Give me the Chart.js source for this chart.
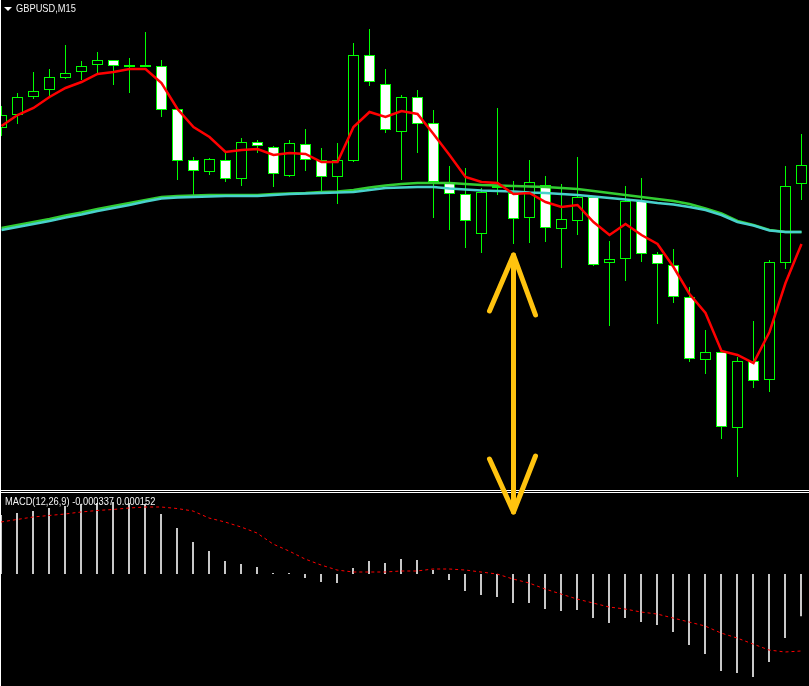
<!DOCTYPE html>
<html>
<head>
<meta charset="utf-8">
<script src="https://cdn.jsdelivr.net/npm/chart.js@4.4.0/dist/chart.umd.min.js"></script>
<style>
  html, body { margin: 0; padding: 0; background: #000; }
  #wrap { position: relative; width: 809px; height: 686px; background: #000; overflow: hidden; }
  canvas { position: absolute; left: 0; display: block; }
  .sep { position: absolute; left: 0; width: 809px; height: 1px; background: #ffffff; }
  .lbl { position: absolute; font-family: "Liberation Sans", Arial, sans-serif;
         font-size: 11px; line-height: 11px; color: #f4f4f4; white-space: nowrap;
         transform: scaleX(0.845); transform-origin: 0 0; }
  #tri { position: absolute; left: 4px; top: 7px; width: 0; height: 0;
         border-left: 4px solid transparent; border-right: 4px solid transparent; border-top: 4px solid #ffffff; }
  #lb { position: absolute; left: 0; top: 0; width: 1px; height: 686px; background: #ffffff; }
</style>
</head>
<body>
<div id="wrap">
  <canvas id="price" width="809" height="490" style="top:0"></canvas>
  <div class="sep" style="top:490px"></div>
  <div class="sep" style="top:492px"></div>
  <canvas id="macd" width="809" height="193" style="top:493px"></canvas>
  <div id="tri"></div>
  <div class="lbl" style="left:16px;top:3px">GBPUSD,M15</div>
  <div class="lbl" style="left:5px;top:496px">MACD(12,26,9) -0.000337 0.000152</div>
  <canvas id="overlay" width="809" height="686" style="top:0"></canvas>
  <div id="lb"></div>
</div>
<script>
// ---- Candles (GBPUSD, M15) ----
const opens  = [1.28362,1.28375,1.28393,1.28400,1.28412,1.28418,1.28425,1.28430,1.28425,1.28425,
                1.28424,1.28381,1.28330,1.28318,1.28330,1.28311,1.28348,1.28343,1.28314,1.28346,
                1.28330,1.28313,1.28329,1.28435,1.28406,1.28358,1.28393,1.28367,1.28308,1.28296,
                1.28256,1.28302,1.28297,1.28272,1.28305,1.28261,1.28269,1.28293,1.28227,1.28231,
                1.28289,1.28236,1.28225,1.28193,1.28130,1.28138,1.28062,1.28129,1.28110,1.28227,
                1.28306];
const highs  = [1.28384,1.28397,1.28418,1.28421,1.28445,1.28429,1.28438,1.28430,1.28432,1.28458,
                1.28430,1.28381,1.28333,1.28332,1.28337,1.28352,1.28350,1.28344,1.28350,1.28361,
                1.28342,1.28347,1.28447,1.28461,1.28421,1.28395,1.28400,1.28380,1.28324,1.28322,
                1.28302,1.28382,1.28309,1.28330,1.28314,1.28306,1.28333,1.28294,1.28249,1.28304,
                1.28312,1.28238,1.28241,1.28203,1.28160,1.28138,1.28133,1.28169,1.28230,1.28324,
                1.28356];
const lows   = [1.28354,1.28366,1.28391,1.28394,1.28411,1.28410,1.28417,1.28405,1.28397,1.28423,
                1.28373,1.28310,1.28295,1.28315,1.28308,1.28304,1.28337,1.28303,1.28313,1.28319,
                1.28298,1.28286,1.28328,1.28404,1.28357,1.28310,1.28337,1.28272,1.28260,1.28242,
                1.28237,1.28295,1.28246,1.28247,1.28248,1.28222,1.28255,1.28224,1.28164,1.28209,
                1.28228,1.28166,1.28187,1.28128,1.28116,1.28051,1.28013,1.28102,1.28098,1.28221,
                1.28290];
const closes = [1.28375,1.28393,1.28399,1.28413,1.28417,1.28424,1.28430,1.28424,1.28423,1.28423,
                1.28380,1.28329,1.28319,1.28331,1.28311,1.28348,1.28344,1.28316,1.28347,1.28330,
                1.28313,1.28330,1.28435,1.28408,1.28360,1.28393,1.28366,1.28308,1.28296,1.28269,
                1.28298,1.28304,1.28271,1.28308,1.28262,1.28271,1.28293,1.28225,1.28231,1.28289,
                1.28236,1.28226,1.28193,1.28131,1.28138,1.28063,1.28129,1.28109,1.28228,1.28304,
                1.28325];

// ---- Moving averages ----
const maRed   = [1.28364,1.28375,1.28382,1.28393,1.28402,1.28408,1.28416,1.28418,1.28421,1.28421,
                 1.28407,1.28381,1.28363,1.28353,1.28338,1.28340,1.28341,1.28335,1.28337,1.28336,
                 1.28328,1.28328,1.28363,1.28378,1.28373,1.28379,1.28376,1.28356,1.28335,1.28313,
                 1.28308,1.28307,1.28296,1.28297,1.28288,1.28283,1.28285,1.28268,1.28255,1.28266,
                 1.28255,1.28246,1.28223,1.28196,1.28177,1.28139,1.28135,1.28127,1.28158,1.28207,
                 1.28246];
const maGreen = [1.28262,1.28265,1.28268,1.28271,1.282745,1.282775,1.28281,1.28284,1.28287,1.28290,
                 1.28293,1.28294,1.282945,1.28295,1.28295,1.28295,1.28295,1.28296,1.282965,1.28297,
                 1.28298,1.282985,1.28300,1.283025,1.283045,1.28306,1.28307,1.28307,1.28307,1.28306,
                 1.28305,1.283045,1.28304,1.283035,1.28303,1.28302,1.28301,1.28299,1.28297,1.28295,
                 1.28293,1.28291,1.28289,1.28286,1.282815,1.282765,1.28269,1.28265,1.28260,1.28258,
                 1.28258];
const maCyan  = [1.28260,1.28263,1.28266,1.28269,1.282725,1.282755,1.28279,1.28282,1.28285,1.282885,
                 1.282915,1.282925,1.28293,1.282935,1.28294,1.28294,1.28294,1.28295,1.28296,1.282965,
                 1.28297,1.282975,1.28298,1.28300,1.28302,1.283025,1.28303,1.28303,1.283015,1.283005,
                 1.282995,1.28299,1.282985,1.282975,1.28297,1.28296,1.28295,1.282935,1.28292,1.282905,
                 1.28289,1.28287,1.282855,1.28283,1.28280,1.28275,1.28268,1.282645,1.282595,1.28258,
                 1.28258];

// ---- MACD(12,26,9) ----
const macdMain   = [0.000472,0.000488,0.000504,0.000528,0.000544,0.000560,0.000568,0.000576,0.000568,0.000560,
                    0.000480,0.000368,0.000256,0.000184,0.000104,0.000080,0.000056,0.000008,0.000008,-0.000032,
                    -0.000064,-0.000072,0.000048,0.000104,0.000088,0.000120,0.000112,0.000032,-0.000048,-0.000136,
                    -0.000168,-0.000184,-0.000232,-0.000232,-0.000280,-0.000296,-0.000288,-0.000352,-0.000392,-0.000352,
                    -0.000384,-0.000408,-0.000464,-0.000568,-0.000640,-0.000776,-0.000792,-0.000824,-0.000704,-0.000512,
                    -0.000337];
const macdSignal = [0.000416,0.000436,0.000456,0.000468,0.000480,0.000496,0.000508,0.000516,0.000528,0.000536,
                    0.000536,0.000524,0.000504,0.000448,0.000416,0.000376,0.000328,0.000240,0.000184,0.000120,
                    0.000072,0.000032,0.000016,0.000016,0.000016,0.000024,0.000024,0.000040,0.000040,0.000032,
                    0.000016,0.000000,-0.000040,-0.000072,-0.000120,-0.000160,-0.000200,-0.000232,-0.000264,-0.000280,
                    -0.000304,-0.000320,-0.000352,-0.000384,-0.000416,-0.000472,-0.000512,-0.000560,-0.000608,-0.000624,
                    -0.000616];

// ---- Annotation: double arrow at bar 32 ----
const arrowBar = 32;
const arrowTopPrice = 1.28235;
const arrowBottomMacd = 0.000496;

const barIndex = opens.map((_, i) => i);

const priceChart = new Chart(document.getElementById('price'), {
  type: 'bar',
  data: {
    datasets: [
      { type: 'bar', data: barIndex.map(i => ({ x: i, y: [lows[i], highs[i]] })),
        backgroundColor: '#00FF00', borderWidth: 0, barThickness: 1, grouped: false, inflateAmount: 0, order: 5 },
      { type: 'bar', data: barIndex.map(i => ({ x: i, y: [opens[i], closes[i]] })),
        backgroundColor: barIndex.map(i => closes[i] > opens[i] ? '#000000' : '#FFFFFF'),
        borderColor: '#00FF00', borderWidth: 1, borderSkipped: false, barThickness: 11, grouped: false, inflateAmount: 0, order: 4 },
      { type: 'line', data: barIndex.map(i => ({ x: i, y: maGreen[i] })),
        borderColor: '#32CD32', borderWidth: 2.5, pointRadius: 0, tension: 0, order: 3 },
      { type: 'line', data: barIndex.map(i => ({ x: i, y: maCyan[i] })),
        borderColor: '#48D1CC', borderWidth: 2.5, pointRadius: 0, tension: 0, order: 2 },
      { type: 'line', data: barIndex.map(i => ({ x: i, y: maRed[i] })),
        borderColor: '#FF0000', borderWidth: 2.5, pointRadius: 0, tension: 0, order: 1 }
    ]
  },
  options: {
    responsive: false, animation: false, devicePixelRatio: 1,
    layout: { padding: 0 },
    plugins: { legend: { display: false }, tooltip: { enabled: false } },
    scales: {
      x: { type: 'linear', display: false, offset: false, min: -0.09375, max: 50.46875 },
      y: { type: 'linear', display: false, min: 1.28000, max: 1.28490 }
    }
  }
});

const macdChart = new Chart(document.getElementById('macd'), {
  type: 'bar',
  data: {
    datasets: [
      { type: 'bar', data: barIndex.map(i => ({ x: i, y: macdMain[i] })),
        backgroundColor: '#C8C8C8', borderWidth: 0, barThickness: 2, grouped: false, inflateAmount: 0, order: 2 },
      { type: 'line', data: barIndex.map(i => ({ x: i, y: macdSignal[i] })),
        borderColor: '#FF0000', borderWidth: 1, borderDash: [3, 3], pointRadius: 0, tension: 0, order: 1 }
    ]
  },
  options: {
    responsive: false, animation: false, devicePixelRatio: 1,
    layout: { padding: 0 },
    plugins: { legend: { display: false }, tooltip: { enabled: false } },
    scales: {
      x: { type: 'linear', display: false, offset: false, min: -0.0625, max: 50.5 },
      y: { type: 'linear', display: false, min: -0.000896, max: 0.000648 }
    }
  }
});

// Overlay arrow (positions derived from the charts' scales)
(function drawArrow() {
  const cv = document.getElementById('overlay');
  const ctx = cv.getContext('2d');
  const macdTop = 493;
  const x = priceChart.scales.x.getPixelForValue(arrowBar);
  const yTop = priceChart.scales.y.getPixelForValue(arrowTopPrice);
  const yBot = macdTop + macdChart.scales.y.getPixelForValue(arrowBottomMacd);
  ctx.strokeStyle = '#FFC30F';
  ctx.lineWidth = 5;
  ctx.lineCap = 'round';
  ctx.lineJoin = 'round';
  ctx.beginPath();
  ctx.moveTo(x, yTop); ctx.lineTo(x, yBot); ctx.stroke();
  ctx.beginPath();
  ctx.moveTo(x - 24, yTop + 56); ctx.lineTo(x, yTop); ctx.lineTo(x + 22, yTop + 60); ctx.stroke();
  ctx.beginPath();
  ctx.moveTo(x - 24, yBot - 53); ctx.lineTo(x, yBot); ctx.lineTo(x + 22, yBot - 56); ctx.stroke();
})();
</script>
</body>
</html>
